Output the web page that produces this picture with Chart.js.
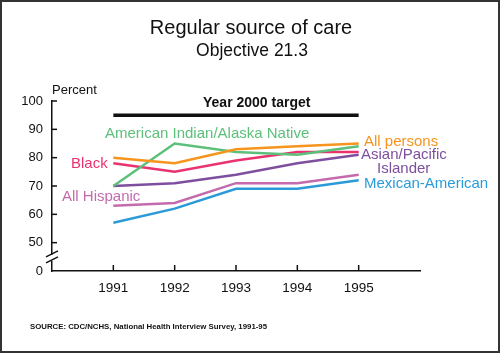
<!DOCTYPE html>
<html>
<head>
<meta charset="utf-8">
<script src="https://cdn.jsdelivr.net/npm/chart.js@4/dist/chart.umd.min.js"></script>
<style>
html,body{margin:0;padding:0;background:#fff;}
#wrap{width:500px;height:353px;position:relative;}
</style>
</head>
<body>
<div id="wrap"><canvas id="c" width="500" height="353"></canvas></div>
<script>
// ---- data ----
const years = [1991, 1992, 1993, 1994, 1995];
const allPersons = [80, 78, 83, 84, 85];
const black = [78, 75, 79, 82, 82];
const amIndian = [70, 85, 82, 81, 84];
const asianPacific = [70, 71, 74, 78, 81];
const allHispanic = [63, 64, 71, 71, 74];
const mexicanAmerican = [57, 62, 69, 69, 72];
const target2000 = [95, 95, 95, 95, 95];
const yTickValues = [0, 50, 60, 70, 80, 90, 100];

// broken axis: 0 is drawn one step below 50
const BREAK_BASE = 40;
function axisVal(v) { return v < 50 ? BREAK_BASE + v / 5 : v; }
function pts(arr) { return arr.map((v, i) => ({ x: years[i], y: axisVal(v) })); }

const FONT = "'Liberation Sans', Arial, Helvetica, sans-serif";

const series = [
  { label: 'All persons', data: allPersons, color: '#F7941D' },
  { label: 'American Indian/Alaska Native', data: amIndian, color: '#5CC07A' },
  { label: 'Black', data: black, color: '#E8336F' },
  { label: 'Asian/Pacific Islander', data: asianPacific, color: '#7D4F9E' },
  { label: 'All Hispanic', data: allHispanic, color: '#C46BAE' },
  { label: 'Mexican-American', data: mexicanAmerican, color: '#2B9BD8' }
];

const datasets = [
  { label: 'Year 2000 target', data: pts(target2000), borderColor: '#111', borderWidth: 3.5, pointRadius: 0, fill: false, tension: 0 }
].concat(series.map(s => ({
  label: s.label, data: pts(s.data), borderColor: s.color, borderWidth: 2.5,
  pointRadius: 0, fill: false, tension: 0
})));

const decor = {
  id: 'decor',
  afterDraw(chart) {
    const ctx = chart.ctx;
    const xs = chart.scales.x, ys = chart.scales.y;
    const ca = chart.chartArea;
    ctx.save();
    // inward ticks
    ctx.strokeStyle = '#111';
    ctx.lineWidth = 1.5;
    years.forEach(y => {
      const px = xs.getPixelForValue(y);
      ctx.beginPath(); ctx.moveTo(px, ca.bottom); ctx.lineTo(px, ca.bottom - 6); ctx.stroke();
    });
    yTickValues.forEach(v => {
      if (v === 0) return;
      const py = ys.getPixelForValue(axisVal(v));
      ctx.beginPath(); ctx.moveTo(ca.left, py); ctx.lineTo(ca.left + 5, py); ctx.stroke();
    });
    // axis break
    const y50 = ys.getPixelForValue(50), y0 = ys.getPixelForValue(axisVal(0));
    const mid = (y50 + y0) / 2 + 1;
    ctx.fillStyle = '#fff';
    ctx.fillRect(ca.left - 2, mid - 3, 4, 6);
    ctx.beginPath();
    ctx.moveTo(ca.left - 6, mid - 1); ctx.lineTo(ca.left + 6, mid - 7);
    ctx.moveTo(ca.left - 6, mid + 5); ctx.lineTo(ca.left + 6, mid - 1);
    ctx.stroke();

    // texts
    ctx.textBaseline = 'alphabetic';
    ctx.fillStyle = '#111';
    ctx.textAlign = 'center';
    ctx.font = '20px ' + FONT;
    ctx.fillText('Regular source of care', 251, 34);
    ctx.font = '17.5px ' + FONT;
    ctx.fillText('Objective 21.3', 252, 56);
    ctx.textAlign = 'left';
    ctx.font = '13px ' + FONT;
    ctx.fillText('Percent', 52, 94);
    ctx.font = 'bold 14px ' + FONT;
    ctx.fillText('Year 2000 target', 203, 107);

    ctx.font = '15px ' + FONT;
    const lab = (t, c, x, y) => { ctx.fillStyle = c; ctx.fillText(t, x, y); };
    lab('American Indian/Alaska Native', '#5CC07A', 105, 138);
    lab('Black', '#E8336F', 71, 168);
    lab('All Hispanic', '#C46BAE', 62, 201);
    lab('All persons', '#F7941D', 364, 146);
    lab('Asian/Pacific', '#7D4F9E', 361, 159);
    lab('Islander', '#7D4F9E', 377, 173);
    lab('Mexican-American', '#2B9BD8', 364, 188);

    ctx.fillStyle = '#111';
    ctx.font = 'bold 8px ' + FONT;
    ctx.fillText('SOURCE: CDC/NCHS, National Health Interview Survey, 1991-95', 30, 329, 237);

    // frame
    ctx.strokeStyle = '#333';
    ctx.lineWidth = 2;
    ctx.strokeRect(1, 1, 498, 351);
    ctx.restore();
  }
};

new Chart(document.getElementById('c'), {
  type: 'line',
  data: { datasets },
  options: {
    responsive: false,
    animation: false,
    devicePixelRatio: 1,
    layout: { padding: { left: 0, top: 101, right: 80, bottom: 52 } },
    plugins: { legend: { display: false }, tooltip: { enabled: false }, title: { display: false } },
    scales: {
      x: {
        type: 'linear', min: 1990, max: 1996,
        afterBuildTicks: s => { s.ticks = years.map(v => ({ value: v })); },
        afterFit: s => { s.height = 30; },
        grid: { display: false, drawTicks: false },
        border: { display: true, color: '#111', width: 1.5 },
        ticks: { color: '#111', font: { family: FONT, size: 13.5 }, padding: 9, maxRotation: 0,
          callback: v => String(v) }
      },
      y: {
        type: 'linear', min: 40, max: 100,
        afterBuildTicks: s => { s.ticks = yTickValues.map(v => ({ value: axisVal(v) })); },
        afterFit: s => { s.width = 52; },
        grid: { display: false, drawTicks: false },
        border: { display: true, color: '#111', width: 1.5 },
        ticks: { color: '#111', font: { family: FONT, size: 13 }, padding: 9,
          callback: v => (v === BREAK_BASE ? '0' : String(v)) }
      }
    }
  },
  plugins: [decor]
});
</script>
</body>
</html>
